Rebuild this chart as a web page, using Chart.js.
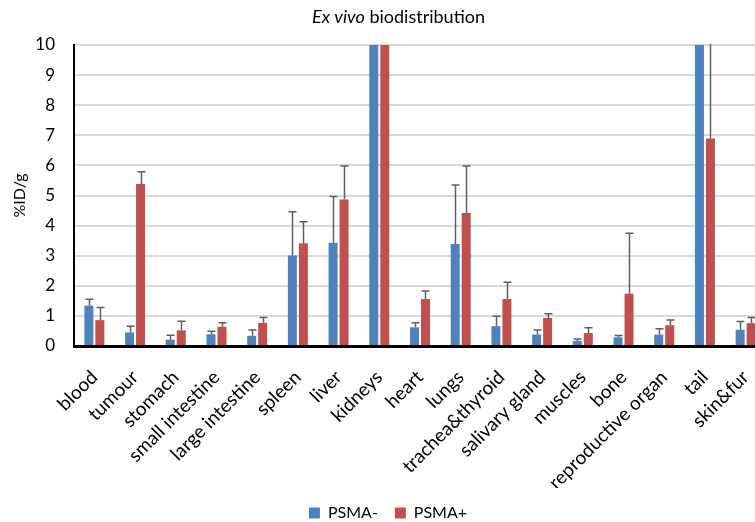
<!DOCTYPE html>
<html><head><meta charset="utf-8">
<script src="https://cdn.jsdelivr.net/npm/chart.js@4.4.1/dist/chart.umd.min.js"></script>
<style>html,body{margin:0;padding:0;overflow:hidden;background:#fff;width:755px;height:522px}#wrap{width:777px;height:522px;overflow:hidden}</style>
</head><body><div id="wrap"><canvas id="c" width="777" height="531"></canvas></div>
<script>
const categories = ["blood","tumour","stomach","small intestine","large intestine","spleen","liver","kidneys","heart","lungs","trachea&thyroid","salivary gland","muscles","bone","reproductive organ","tail","skin&fur"];
const psmaNeg = [1.34,0.45,0.21,0.39,0.34,3.01,3.43,15.0,0.62,3.39,0.66,0.38,0.17,0.29,0.38,18.0,0.54];
const psmaNegErr = [0.21,0.21,0.15,0.10,0.19,1.45,1.54,2.0,0.15,1.96,0.33,0.15,0.06,0.06,0.19,3.0,0.27];
const psmaPos = [0.86,5.38,0.52,0.64,0.77,3.41,4.87,14.0,1.56,4.42,1.56,0.93,0.43,1.74,0.69,6.89,0.76];
const psmaPosErr = [0.42,0.41,0.30,0.13,0.18,0.72,1.11,2.0,0.27,1.56,0.56,0.14,0.18,2.01,0.17,5.0,0.19];
const yTicks = [0,1,2,3,4,5,6,7,8,9,10];
const FONT = "Lato, 'Open Sans', sans-serif";

const errorBars = {
  id:'errorBars',
  afterDatasetsDraw(chart){
    const ctx = chart.ctx, ca = chart.chartArea, y = chart.scales.y;
    const errs = [psmaNegErr, psmaPosErr];
    ctx.save();
    ctx.beginPath(); ctx.rect(ca.left, ca.top-1, ca.right-ca.left, ca.bottom-ca.top+1); ctx.clip();
    ctx.strokeStyle = '#5f5f5f'; ctx.lineWidth = 1.5;
    chart.data.datasets.forEach((ds, di) => {
      const meta = chart.getDatasetMeta(di);
      meta.data.forEach((bar, i) => {
        const v = ds.data[i], e = errs[di][i];
        const x = Math.round(bar.x) + 0.5;
        const y0 = y.getPixelForValue(v), y1 = y.getPixelForValue(v + e);
        ctx.beginPath();
        ctx.moveTo(x, y0); ctx.lineTo(x, y1);
        ctx.moveTo(x-4, y1); ctx.lineTo(x+4, y1);
        ctx.stroke();
      });
    });
    ctx.restore();
  }
};

const titlePlugin = {
  id:'mixedTitle',
  afterDraw(chart){
    const ctx = chart.ctx;
    const fIt = "italic 18px " + FONT, fN = "18px " + FONT;
    const p1 = "Ex vivo", p2 = " biodistribution";
    ctx.save();
    ctx.font = fIt; const w1 = ctx.measureText(p1).width;
    ctx.font = fN; const w2 = ctx.measureText(p2).width;
    const cx = chart.width/2 + 10;
    let x = cx - (w1+w2)/2;
    const yy = 17;
    ctx.fillStyle = '#000'; ctx.textBaseline = 'middle'; ctx.textAlign = 'left';
    ctx.font = fIt; ctx.fillText(p1, x, yy);
    ctx.font = fN; ctx.fillText(p2, x + w1, yy);
    ctx.restore();
  }
};

new Chart(document.getElementById('c'), {
  type:'bar',
  data:{
    labels: categories,
    datasets:[
      {label:'PSMA-', data:psmaNeg, backgroundColor:'#4f81bd', borderWidth:0, barPercentage:0.82, categoryPercentage:0.54},
      {label:'PSMA+', data:psmaPos, backgroundColor:'#c0504d', borderWidth:0, barPercentage:0.82, categoryPercentage:0.54}
    ]
  },
  options:{
    responsive:false, animation:false,
    layout:{padding:{top:45, right:11, left:10, bottom:0}},
    plugins:{
      legend:{position:'bottom', labels:{font:{family:FONT, size:16}, color:'#000', boxWidth:11, boxHeight:11, padding:17}},
      title:{display:false},
      tooltip:{enabled:false}
    },
    scales:{
      x:{
        grid:{display:false},
        border:{display:true, color:'#000', width:3},
        ticks:{font:{family:FONT, size:19}, color:'#000', maxRotation:45, minRotation:45, padding:12, autoSkip:false},
        afterFit(scale){ scale.height = 142; scale.paddingLeft = 0; scale.paddingRight = 0; }
      },
      y:{
        min:0, max:10,
        afterBuildTicks(axis){ axis.ticks = yTicks.map(v=>({value:v})); },
        afterFit(scale){ scale.width = 64; },
        grid:{color:'#d9d9d9', lineWidth:2, drawTicks:false},
        border:{display:true, color:'#000', width:2},
        ticks:{font:{family:FONT, size:17}, color:'#000', padding:19},
        title:{display:true, text:'%ID/g', font:{family:FONT, size:16}, color:'#000', padding:{top:0,bottom:7}}
      }
    }
  },
  plugins:[errorBars, titlePlugin]
});
</script></body></html>
